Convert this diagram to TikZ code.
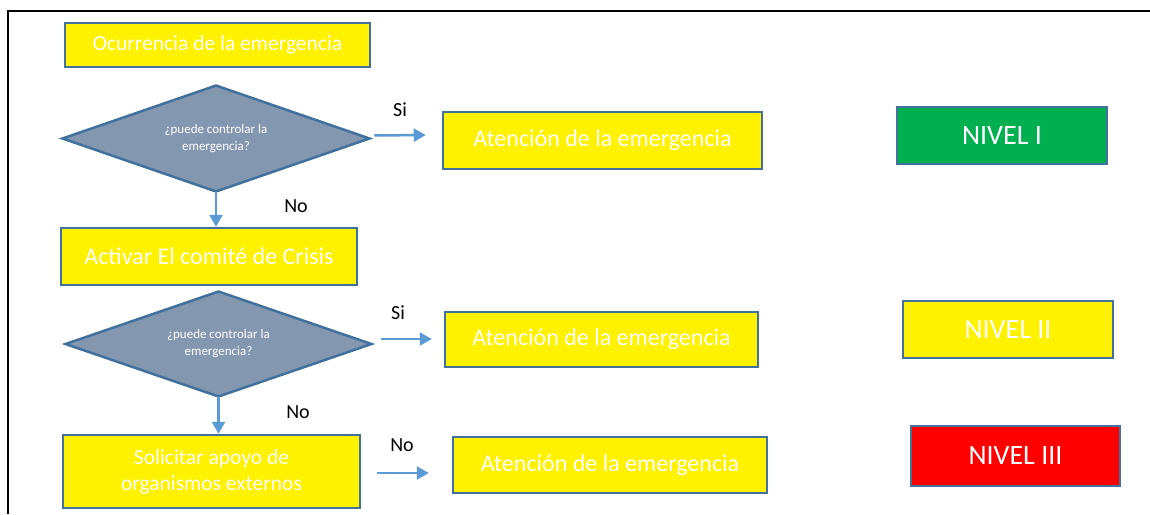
\documentclass[tikz,border=0pt]{standalone}
\usepackage{fontspec}
\setmainfont{Carlito}
\usetikzlibrary{shapes.geometric,arrows.meta,calc}
\definecolor{edgeblue}{HTML}{41719C}
\definecolor{arrowblue}{HTML}{5B9BD5}
\definecolor{dfill}{HTML}{8497B0}
\definecolor{lvlgreen}{HTML}{00B050}
\tikzset{
  ybox/.style={draw=edgeblue, line width=2.5pt, fill=yellow, text=white, inner sep=0pt, align=center, font=\fontsize{24}{26}\selectfont},
  lvlbox/.style={draw=edgeblue, line width=2.5pt, text=white, inner sep=0pt, font=\fontsize{28}{30}\selectfont},
  dia/.style={diamond, aspect=2.9, draw=edgeblue, line width=2.5pt, fill=dfill, text=white, inner sep=0pt, align=center, font=\fontsize{13}{17}\selectfont},
  flow/.style={draw=arrowblue, line width=2.5pt, -{Triangle[width=13pt,length=12pt]}},
  lbl/.style={text=black, inner sep=0pt, font=\fontsize{20}{22}\selectfont}
}
\begin{document}
\begin{tikzpicture}[x=1pt,y=-1pt]
\useasboundingbox (0,0) rectangle (1150,514);
\fill[white] (0,0) rectangle (1150,514);
% frame
\draw[line width=2.5pt] (8,514) -- (8,11) -- (1150,11);
% left column
\node[ybox, minimum width=305pt, minimum height=44pt, font=\fontsize{21.5}{24}\selectfont] (b1) at (217.5,45) {Ocurrencia de la emergencia};
\node[dia, minimum width=308pt, minimum height=107pt] (d1) at (216,138.5) {¿puede controlar la\\emergencia?};
\node[ybox, minimum width=296pt, minimum height=57pt] (b2) at (209,256.5) {Activar El comité de Crisis};
\node[dia, minimum width=307pt, minimum height=106pt] (d2) at (218.5,344) {¿puede controlar la\\emergencia?};
\node[ybox, minimum width=297pt, minimum height=73pt, font=\fontsize{21.5}{26}\selectfont] (b3) at (211.5,471.5) {Solicitar apoyo de\\organismos externos};
% middle column
\node[ybox, minimum width=319pt, minimum height=57pt] (a1) at (602.5,140.5) {Atención de la emergencia};
\node[ybox, minimum width=313pt, minimum height=55pt] (a2) at (601.5,339.5) {Atención de la emergencia};
\node[ybox, minimum width=314pt, minimum height=56pt] (a3) at (610,465) {Atención de la emergencia};
% levels
\node[lvlbox, fill=lvlgreen, minimum width=210pt, minimum height=57pt] (n1) at (1002,135.5) {NIVEL I};
\node[lvlbox, fill=yellow, minimum width=210pt, minimum height=57pt] (n2) at (1008,329.5) {NIVEL II};
\node[lvlbox, fill=red, minimum width=209pt, minimum height=60pt] (n3) at (1015.5,456) {NIVEL III};
% connectors
\draw[flow] (d1.south) -- (d1.south |- b2.north);
\draw[flow] (d2.south) -- (d2.south |- b3.north);
\coordinate (s1) at ($(d1.east)+(3,-3)$);
\coordinate (e1) at ($(a1.west)+(-16,-5.5)$);
\draw[flow] (s1) -- (e1);
\coordinate (s2) at ($(d2.east)+(8,-5)$);
\coordinate (e2) at ($(a2.west)+(-12,-0.5)$);
\draw[flow] (s2) -- (e2);
\coordinate (s3) at ($(b3.east)+(16,1.5)$);
\coordinate (e3) at ($(a3.west)+(-23,8)$);
\draw[flow] (s3) -- (e3);
% labels
\node[lbl] (l1) at (400,110) {Si};
\node[lbl] (l2) at (296,206) {No};
\node[lbl] (l3) at (398,313) {Si};
\node[lbl] (l4) at (298,412) {No};
\node[lbl] (l5) at (402,445) {No};
\end{tikzpicture}
\end{document}
